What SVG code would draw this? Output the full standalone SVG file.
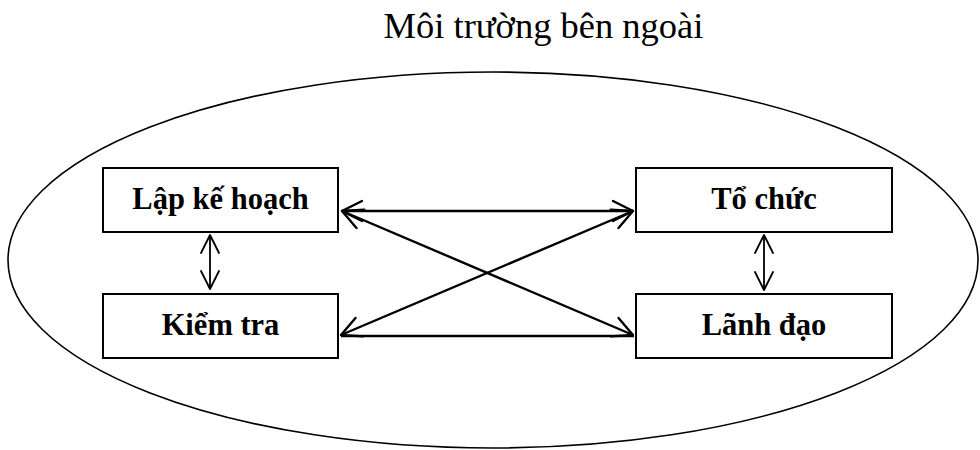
<svg xmlns="http://www.w3.org/2000/svg" width="980" height="450" viewBox="0 0 980 450">
<style>
.box{fill:#fff;stroke:#000;stroke-width:2}
.lbl{font-family:"Liberation Serif","Times New Roman",serif;font-weight:bold;font-size:30.5px;text-anchor:middle;fill:#000}
.title{font-family:"Liberation Serif","Times New Roman",serif;font-size:36.5px;text-anchor:middle;fill:#000}
.conn{fill:none;stroke:#000;stroke-width:2.4}
.thin{fill:none;stroke:#000;stroke-width:1.8}
</style>
<defs>
<marker id="ah" markerUnits="userSpaceOnUse" viewBox="-25 -15 30 30" markerWidth="30" markerHeight="30" refX="0" refY="0" orient="auto-start-reverse">
<path d="M-20,-10 L0,0 L-20,10" fill="none" stroke="#000" stroke-width="2.4" stroke-linejoin="round" stroke-linecap="round"/>
</marker>
<marker id="ahs" markerUnits="userSpaceOnUse" viewBox="-25 -15 30 30" markerWidth="30" markerHeight="30" refX="0" refY="0" orient="auto-start-reverse">
<path d="M-18,-9 L0,0 L-18,9" fill="none" stroke="#000" stroke-width="1.8" stroke-linejoin="round" stroke-linecap="round"/>
</marker>
</defs>
<rect width="980" height="450" fill="#fff"/>
<text class="title" x="543.5" y="38">Môi trường bên ngoài</text>
<ellipse id="env" cx="493" cy="260" rx="485" ry="188" fill="none" stroke="#000" stroke-width="1.6"/>
<g id="connectors">
<line class="conn" x1="342" y1="211" x2="633" y2="211" marker-start="url(#ah)" marker-end="url(#ah)"/>
<line class="conn" x1="342" y1="211" x2="633" y2="335" marker-start="url(#ah)" marker-end="url(#ah)"/>
<line class="conn" x1="633" y1="211" x2="341" y2="335" marker-start="url(#ah)" marker-end="url(#ah)"/>
<line class="conn" x1="341" y1="336" x2="634" y2="336"/>
<line class="thin" x1="210" y1="235" x2="210" y2="289" marker-start="url(#ahs)" marker-end="url(#ahs)"/>
<line class="thin" x1="764" y1="235" x2="764" y2="290" marker-start="url(#ahs)" marker-end="url(#ahs)"/>
</g>
<g id="lap-ke-hoach">
<rect class="box" x="103" y="168" width="235" height="64"/>
<text class="lbl" x="220.5" y="209">Lập kế hoạch</text>
</g>
<g id="to-chuc">
<rect class="box" x="636" y="168" width="256" height="64"/>
<text class="lbl" x="764" y="209">Tổ chức</text>
</g>
<g id="kiem-tra">
<rect class="box" x="103" y="294" width="235" height="64"/>
<text class="lbl" x="220.5" y="335">Kiểm tra</text>
</g>
<g id="lanh-dao">
<rect class="box" x="636" y="294" width="256" height="64"/>
<text class="lbl" x="764" y="335">Lãnh đạo</text>
</g>
</svg>
